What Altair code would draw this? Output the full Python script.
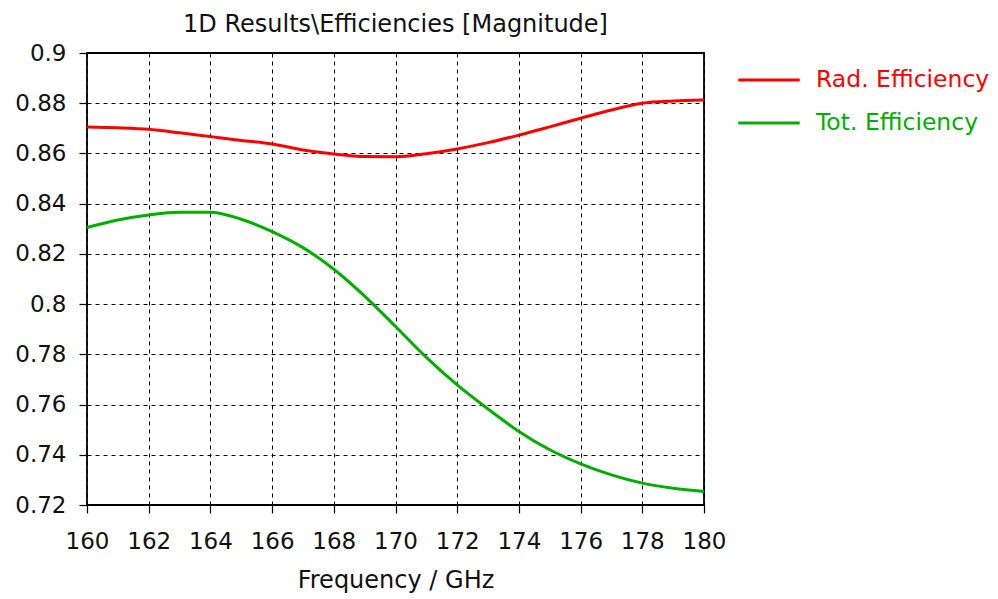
import altair as alt
import pandas as pd

freq = list(range(160, 181))
rad_eff = [0.8705, 0.8702, 0.8696, 0.8682, 0.8667, 0.8652, 0.8638, 0.8614, 0.8598, 0.8588,
           0.8587, 0.8599, 0.8618, 0.8643, 0.8673, 0.8706, 0.8740, 0.8773, 0.8800, 0.8809, 0.8813]
tot_eff = [0.8305, 0.8335, 0.8355, 0.8366, 0.8366, 0.8338, 0.8289, 0.8225, 0.8139, 0.8032,
           0.7911, 0.7788, 0.7678, 0.7582, 0.7493, 0.7420, 0.7364, 0.7320, 0.7287, 0.7267, 0.7254]
series = ["Rad. Efficiency", "Tot. Efficiency"]
colors = ["#ff0000", "#00b000"]
x_ticks = list(range(160, 181, 2))
y_ticks = [0.72, 0.74, 0.76, 0.78, 0.80, 0.82, 0.84, 0.86, 0.88, 0.90]

df = pd.DataFrame({
    "freq": freq * 2,
    "value": rad_eff + tot_eff,
    "series": [series[0]] * len(freq) + [series[1]] * len(freq),
})

FONT = "DejaVu Sans"
label_color_expr = f"datum.value == '{series[0]}' ? '{colors[0]}' : '{colors[1]}'"

base = alt.Chart(df).mark_line(strokeWidth=3, interpolate="monotone").encode(
    x=alt.X("freq:Q", scale=alt.Scale(domain=[160, 180], nice=False),
            axis=alt.Axis(values=x_ticks, title="Frequency / GHz", format="d",
                          labelOverlap=False, labelFlush=False)),
    y=alt.Y("value:Q", scale=alt.Scale(domain=[0.72, 0.9], nice=False, zero=False),
            axis=alt.Axis(values=y_ticks, title=None, format=".2~f",
                          labelOverlap=False, labelFlush=False)),
    color=alt.Color("series:N", scale=alt.Scale(domain=series, range=colors),
                    legend=alt.Legend(
                        title=None, orient="none", legendX=670, legendY=15,
                        symbolType="M-3,0H3", symbolSize=420, symbolStrokeWidth=3,
                        labelOffset=35, labelFontSize=23.5, labelFont=FONT, labelLimit=300,
                        labelColor=alt.ExprRef(label_color_expr),
                        rowPadding=19, padding=0,
                    )),
).properties(
    width=617, height=452,
    title=alt.TitleParams("1D Results\\Efficiencies [Magnitude]", fontSize=24, font=FONT,
                          fontWeight="normal", color="#111", anchor="middle", offset=5),
    padding={"left": 87, "top": 53, "right": 294, "bottom": 94},
    autosize=alt.AutoSizeParams(type="none"),
)

chart = base.configure_view(
    stroke="black", strokeWidth=1.8
).configure_axis(
    grid=True, gridColor="black", gridDash=[4, 4], gridOpacity=1, gridWidth=1,
    domain=False, tickColor="black", tickSize=8, tickWidth=1.2,
    labelFont=FONT, labelFontSize=23, labelColor="#111",
    titleFont=FONT, titleFontSize=24, titleFontWeight="normal", titleColor="#111",
).configure_axisX(
    labelPadding=17, titlePadding=15
).configure_axisY(
    labelPadding=13
)

chart.save("out.html", embed_options={"renderer": "svg", "actions": False})
